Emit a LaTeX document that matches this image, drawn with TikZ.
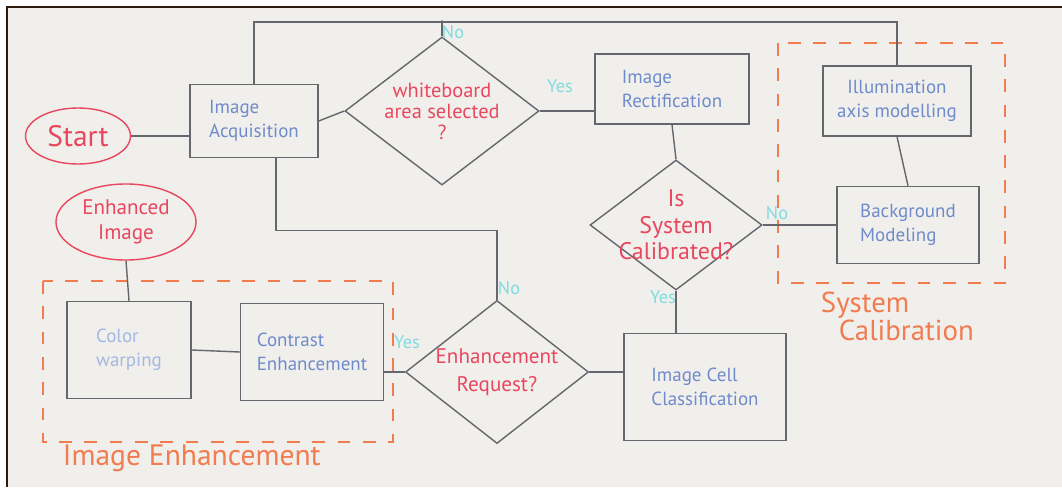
\documentclass[tikz,border=0pt]{standalone}
\usepackage{fontspec}
\setmainfont{PT Sans}
\usetikzlibrary{shapes,arrows}
\definecolor{board}{HTML}{F0EFEC}
\definecolor{frame}{HTML}{2E1A0E}
\definecolor{pen}{HTML}{66666E}
\definecolor{bluepen}{HTML}{6F8BCB}
\definecolor{paleblue}{HTML}{A3B8E2}
\definecolor{redpen}{HTML}{E8475E}
\definecolor{cyanpen}{HTML}{80DCDF}
\definecolor{orangepen}{HTML}{F27B50}
\tikzstyle{block} = [rectangle, draw=pen, line width=1pt, text=bluepen,
    align=left, font=\fontsize{13.5}{17}\selectfont]
\tikzstyle{decision} = [diamond, draw=pen, line width=1pt, inner sep=0pt]
\tikzstyle{question} = [text=redpen, align=center, font=\fontsize{14.5}{15}\selectfont]
\tikzstyle{terminal} = [ellipse, draw=redpen, line width=1pt, text=redpen,
    align=center, inner sep=0pt]
\tikzstyle{answer} = [text=cyanpen, font=\fontsize{13}{13}\selectfont]
\tikzstyle{group} = [draw=orangepen, line width=1.4pt, dash pattern=on 9pt off 9pt]
\tikzstyle{grouptitle} = [text=orangepen, align=left, anchor=west]
\tikzstyle{line1} = [draw=pen, line width=1pt]

\begin{document}
\begin{tikzpicture}[x=0.025cm, y=-0.025cm]
    \useasboundingbox (0,0) rectangle (1062,487);
    % board
    \fill [white] (0,0) rectangle (1062,487);
    \fill [board] (7,7) rectangle (1062,487);
    \draw [frame, line width=1.8pt] (7,487) -- (7,7) -- (1062,7);

    % Place nodes
    \node [terminal, minimum width=2.625cm, minimum height=1.4cm,
        font=\fontsize{21}{21}\selectfont] (start) at (78,136) {Start};
    \node [block, minimum width=3.2cm, minimum height=1.825cm] (acq) at (254,121) {Image\\Acquisition};
    \node [decision, minimum width=4.85cm, minimum height=3.7cm] (wb) at (442,111) {};
    \node [question] (wbq) at (wb) {whiteboard\\area selected\\?};
    \node [block, minimum width=3.85cm, minimum height=1.75cm] (rect) at (672,89) {Image\\Rectification};
    \node [decision, minimum width=4.3cm, minimum height=3.25cm] (cal) at (676,225) {};
    \node [question, font=\fontsize{17}{19}\selectfont] (calq) at (cal) {Is\\System\\Calibrated?};
    \node [block, align=center, minimum width=3.7cm, minimum height=1.75cm] (illum) at (897,101) {Illumination\\axis modelling};
    \node [block, minimum width=3.55cm, minimum height=1.925cm] (bg) at (908,225) {Background\\Modeling};
    \node [block, minimum width=4.05cm, minimum height=2.675cm] (icc) at (705,387) {Image Cell\\Classification};
    \node [decision, minimum width=4.575cm, minimum height=3.575cm] (enh) at (497,372) {};
    \node [question, font=\fontsize{15}{20}\selectfont] (enhq) at (enh) {Enhancement\\Request?};
    \node [block, minimum width=3.575cm, minimum height=2.425cm] (contrast) at (312,352) {Contrast\\Enhancement};
    \node [block, text=paleblue, minimum width=3.1cm, minimum height=2.425cm] (warp) at (129,350) {Color\\warping};
    \node [terminal, minimum width=3.5cm, minimum height=1.9cm,
        font=\fontsize{15}{18}\selectfont] (enhimg) at (126,222) {Enhanced\\Image};
    \coordinate (top) at (442,22);

    % Yes / No
    \node [answer] (wbno) at (453,32) {No};
    \node [answer] (wbyes) at (560,86) {Yes};
    \node [answer] (calno) at (777,213) {No};
    \node [answer] (calyes) at (663,297) {Yes};
    \node [answer] (enhno) at (509,288) {No};
    \node [answer] (enhyes) at (407,342) {Yes};

    % Groups
    \draw [group] (778,43) rectangle (1005,283);
    \draw [group] (43,281) rectangle (393,442);
    \node [grouptitle, font=\fontsize{20.5}{18}\selectfont] (syscal) at (816,316) {System\\\hspace*{0.45cm}Calibration};
    \node [grouptitle, font=\fontsize{21}{21}\selectfont] (imgenh) at (58,458) {Image Enhancement};

    % Draw edges
    \path [line1] (start.east) -- (start.east -| acq.west);
    \path [line1] (acq.east) -- (wb.west);
    \path [line1] (acq.north) |- (top) -| (illum.north);
    \path [line1] (wb.north) -- (top);
    \fill [pen] (top) circle (1.3pt);
    \path [line1] (wb.east) -- (wb.east -| rect.west);
    \path [line1] (rect.south) -- (cal.north);
    \path [line1] (cal.east) -- (bg.west);
    \path [line1] (illum.south) -- (bg.north);
    \path [line1] (cal.south) -- (cal.south |- icc.north);
    \path [line1] ([xshift=0.55cm]acq.south) |- ([yshift=1.725cm]enh.north) -- (enh.north);
    \path [line1] (enh.east) -- (enh.east -| icc.west);
    \path [line1] (enh.west -| contrast.east) -- (enh.west);
    \path [line1] (warp.east) -- (contrast.west);
    \path [line1] (enhimg.south) -- (warp.north);
\end{tikzpicture}
\end{document}
